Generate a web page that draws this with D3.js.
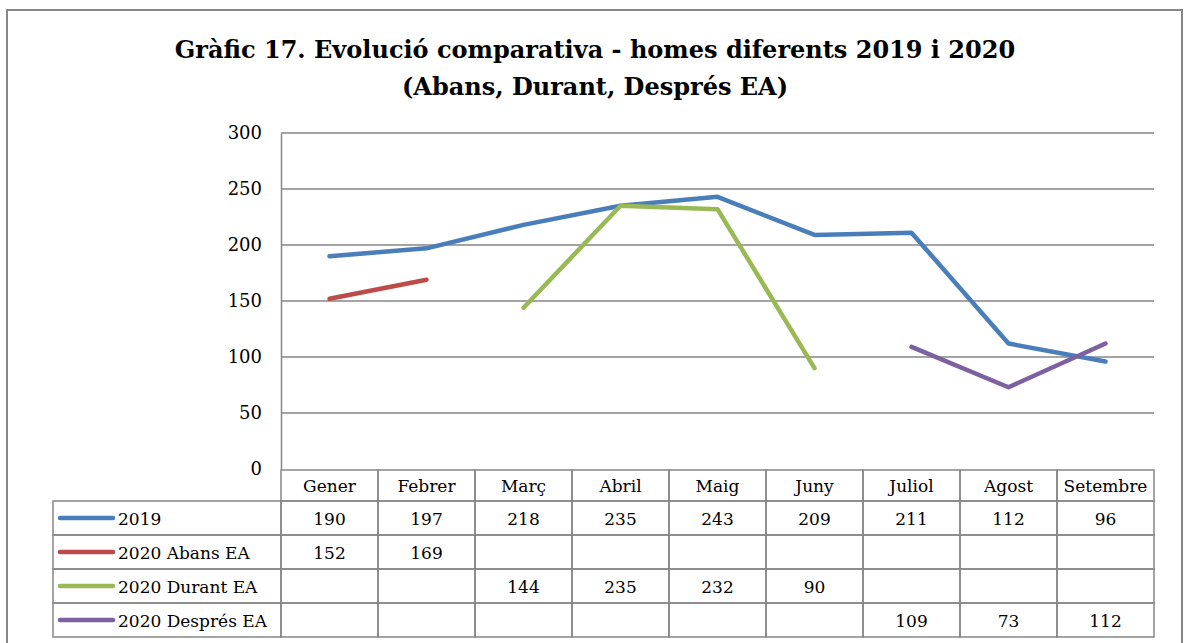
<!DOCTYPE html>
<html>
<head>
<meta charset="utf-8">
<script src="https://cdn.jsdelivr.net/npm/d3@7"></script>
<style>
  body { margin: 0; background: #fff; }
  svg text { font-family: "DejaVu Serif", "Liberation Serif", serif; fill: #000; }
</style>
</head>
<body>
<svg id="chart" width="1184" height="643"></svg>
<script>
// data
const months = ['Gener', 'Febrer', 'Març', 'Abril', 'Maig', 'Juny', 'Juliol', 'Agost', 'Setembre'];
const seriesNames = ['2019', '2020 Abans EA', '2020 Durant EA', '2020 Després EA'];
const values2019 = [190, 197, 218, 235, 243, 209, 211, 112, 96];
const valuesAbans = [152, 169, null, null, null, null, null, null, null];
const valuesDurant = [null, null, 144, 235, 232, 90, null, null, null];
const valuesDespres = [null, null, null, null, null, null, 109, 73, 112];
const yTicks = [0, 50, 100, 150, 200, 250, 300];
const colors = ['#4a7ebb', '#be4b48', '#98b954', '#7d60a0'];

const allSeries = [values2019, valuesAbans, valuesDurant, valuesDespres];

const svg = d3.select('#chart');
const margin = {top: 133, left: 281, right: 1154, bottom: 469};

// outer frame
svg.append('rect')
    .attr('x', 7).attr('y', 10)
    .attr('width', 1175).attr('height', 660)
    .attr('fill', 'none')
    .attr('stroke', '#878787')
    .attr('stroke-width', 2);

// title
const title = svg.append('text')
    .attr('text-anchor', 'middle')
    .attr('font-weight', 'bold')
    .attr('font-size', 24);
title.append('tspan').attr('x', 595).attr('y', 58)
    .text('Gràfic 17. Evolució comparativa - homes diferents 2019 i 2020');
title.append('tspan').attr('x', 595).attr('y', 95)
    .text('(Abans, Durant, Després EA)');

const x = d3.scaleBand()
    .domain(months)
    .range([margin.left, margin.right]);

const y = d3.scaleLinear()
    .domain([0, 300])
    .range([margin.bottom, margin.top]);

// gridlines
svg.append('g')
  .selectAll('line')
  .data(yTicks.filter(d => d > 0))
  .join('line')
    .attr('x1', margin.left).attr('x2', margin.right)
    .attr('y1', d => y(d)).attr('y2', d => y(d))
    .attr('stroke', '#868686')
    .attr('stroke-width', 1.5);

// y axis
const yAxis = svg.append('g')
    .attr('transform', `translate(${margin.left},0)`)
    .call(d3.axisLeft(y).tickValues(yTicks).tickSize(0).tickPadding(19));
yAxis.select('.domain').attr('stroke', '#868686').attr('stroke-width', 1.5);
yAxis.selectAll('text')
    .attr('font-size', 18)
    .attr('font-family', '"DejaVu Serif", serif');

// lines
const line = d3.line()
    .defined(d => d != null)
    .x((d, i) => x(months[i]) + x.bandwidth() / 2)
    .y(d => y(d));

svg.append('g')
  .selectAll('path')
  .data(allSeries)
  .join('path')
    .attr('d', d => line(d))
    .attr('fill', 'none')
    .attr('stroke', (d, i) => colors[i])
    .attr('stroke-width', 4.5)
    .attr('stroke-linejoin', 'round')
    .attr('stroke-linecap', 'round');

// data table
const rowH = 34;
const headerTop = 470, headerBottom = 501;
const legendLeft = 53;
const table = svg.append('g');
const gridColor = '#868686';

// header cells
table.selectAll('.hcell')
  .data(months)
  .join('rect')
    .attr('class', 'hcell')
    .attr('x', d => x(d)).attr('y', headerTop)
    .attr('width', x.bandwidth()).attr('height', headerBottom - headerTop)
    .attr('fill', 'none').attr('stroke', gridColor).attr('stroke-width', 1.5);

table.selectAll('.htext')
  .data(months)
  .join('text')
    .attr('class', 'htext')
    .attr('x', d => x(d) + x.bandwidth() / 2)
    .attr('y', headerTop + 22)
    .attr('text-anchor', 'middle')
    .attr('font-size', 17)
    .text(d => d);

// rows
const rows = table.selectAll('.row')
  .data(allSeries)
  .join('g')
    .attr('class', 'row')
    .attr('transform', (d, i) => `translate(0,${headerBottom + i * rowH})`);

rows.append('rect')
    .attr('x', legendLeft).attr('y', 0)
    .attr('width', margin.left - legendLeft).attr('height', rowH)
    .attr('fill', 'none').attr('stroke', gridColor).attr('stroke-width', 1.5);

rows.append('line')
    .attr('x1', 60).attr('x2', 113)
    .attr('y1', rowH / 2).attr('y2', rowH / 2)
    .attr('stroke', (d, i) => colors[i])
    .attr('stroke-width', 4.5)
    .attr('stroke-linecap', 'round');

rows.append('text')
    .attr('x', 118).attr('y', rowH / 2 + 7)
    .attr('font-size', 17)
    .text((d, i) => seriesNames[i]);

rows.selectAll('.cell')
  .data(d => d.map((v, j) => ({v, m: months[j]})))
  .join('rect')
    .attr('class', 'cell')
    .attr('x', d => x(d.m)).attr('y', 0)
    .attr('width', x.bandwidth()).attr('height', rowH)
    .attr('fill', 'none').attr('stroke', gridColor).attr('stroke-width', 1.5);

rows.selectAll('.val')
  .data(d => d.map((v, j) => ({v, m: months[j]})).filter(e => e.v != null))
  .join('text')
    .attr('class', 'val')
    .attr('x', d => x(d.m) + x.bandwidth() / 2)
    .attr('y', rowH / 2 + 7)
    .attr('text-anchor', 'middle')
    .attr('font-size', 17)
    .text(d => d.v);
</script>
</body>
</html>
